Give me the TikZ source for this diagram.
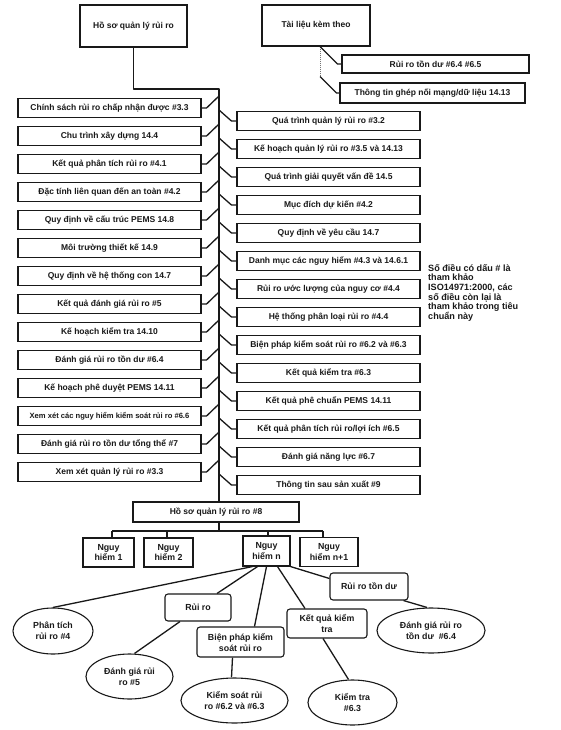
\documentclass[tikz,border=0pt]{standalone}
\usepackage{fontspec}
\setmainfont{Liberation Sans}
\usetikzlibrary{calc,shapes.geometric}
\definecolor{hsink}{RGB}{25,25,25}
\tikzset{
  hsbox/.style={
    draw=hsink, line width=1.1pt, fill=white, align=center,
    inner sep=1pt, text=hsink, font=\bfseries\fontsize{8.5}{10.5}\selectfont
  },
  topbox/.style={hsbox, minimum width=107pt, minimum height=42pt},
  itembox/.style={hsbox, minimum width=183pt, minimum height=19.5pt},
  subbox/.style={hsbox, minimum height=20pt},
  hzbox/.style={hsbox, minimum height=29pt, font=\bfseries\fontsize{8.8}{10.5}\selectfont},
  rbox/.style={hsbox, rounded corners=3pt, minimum height=27pt, font=\bfseries\fontsize{8.8}{11}\selectfont},
  oval/.style={hsbox, ellipse, inner sep=0pt, minimum height=45pt, font=\bfseries\fontsize{8.8}{11.5}\selectfont},
  link/.style={draw=hsink, line width=1.3pt, line join=round},
  note/.style={anchor=north west, align=left, inner sep=0pt, text=hsink, font=\bfseries\fontsize{9.1}{9.7}\selectfont}
}
\begin{document}
\begin{tikzpicture}[x=1pt, y=-1pt]
  \fill[white] (0,0) rectangle (560,730);
  \useasboundingbox (0,0) rectangle (560,730);

  % top of the record
  \node[topbox] (hs) at (133.5,26) {Hồ sơ quản lý rủi ro};
  \node[topbox, minimum width=108pt, minimum height=41pt] (tl) at (316,25.5) {Tài liệu kèm theo};
  \node[subbox, minimum width=187pt, minimum height=18pt] (tdu) at (435.5,64) {Rủi ro tồn dư \#6.4 \#6.5};
  \node[subbox, minimum width=185pt] (gnm) at (432.5,93) {Thông tin ghép nối mạng/dữ liệu 14.13};
  \coordinate (tlj) at ($(tl.south)+(4,0)$);
  \draw[hsink!60, line width=1pt, densely dotted] (tlj) -- ++(0,30);
  \draw[link] (tlj) -- ($(tdu.west)+(-4,0)$) -- (tdu.west);
  \draw[link] ($(tlj)+(0,30)$) -- ($(gnm.west)+(-3,0)$) -- (gnm.west);

  % spine
  \coordinate (spine) at (219,89);
  \node[subbox, minimum width=166pt] (rec) at (216,512) {Hồ sơ quản lý rủi ro \#8};
  \draw[link] (hs.south) -- (hs.south |- spine) -- (spine) -- (rec.north -| spine);

  % left column
  \foreach \t [count=\i from 0] in {
    Chính sách rủi ro chấp nhận được \#3.3,
    Chu trình xây dựng 14.4,
    Kết quả phân tích rủi ro \#4.1,
    Đặc tính liên quan đến an toàn \#4.2,
    Quy định về cấu trúc PEMS 14.8,
    Môi trường thiết kế 14.9,
    Quy định về hệ thống con 14.7,
    Kết quả đánh giá rủi ro \#5,
    Kế hoạch kiểm tra 14.10,
    Đánh giá rủi ro tồn dư \#6.4,
    Kế hoạch phê duyệt PEMS 14.11,
    {\fontsize{7.6}{9}\selectfont Xem xét các nguy hiểm kiểm soát rủi ro \#6.6},
    Đánh giá rủi ro tồn dư tổng thể \#7,
    Xem xét quản lý rủi ro \#3.3}
  {
    \node[itembox] (l\i) at (109.5,108+28*\i) {\t};
    \draw[link] (l\i.east) -- ++(5,0) -- ($(l\i.east -| spine)+(0,-12)$);
  }

  % right column
  \foreach \t [count=\i from 0] in {
    Quá trình quản lý rủi ro \#3.2,
    Kế hoạch quản lý rủi ro \#3.5 và 14.13,
    Quá trình giải quyết vấn đề 14.5,
    Mục đích dự kiến \#4.2,
    Quy định về yêu cầu 14.7,
    Danh mục các nguy hiểm \#4.3 và 14.6.1,
    Rủi ro ước lượng của nguy cơ \#4.4,
    Hệ thống phân loại rủi ro \#4.4,
    Biện pháp kiểm soát rủi ro \#6.2 và \#6.3,
    Kết quả kiểm tra \#6.3,
    Kết quả phê chuẩn PEMS 14.11,
    Kết quả phân tích rủi ro/lợi ích \#6.5,
    Đánh giá năng lực \#6.7,
    Thông tin sau sản xuất \#9}
  {
    \node[itembox] (r\i) at (328.5,121+28*\i) {\t};
    \draw[link] ($(r\i.west -| spine)+(0,-11)$) -- ($(r\i.west)+(-5,0)$) -- (r\i.west);
  }

  \node[note] (nt) at (428,264) {Số điều có dấu \# là\\tham khảo\\ISO14971:2000, các\\số điều còn lại là\\tham khảo trong tiêu\\chuẩn này};

  % hazards
  \coordinate (bus) at (219,531);
  \node[hzbox, minimum width=51pt] (h1) at (108.5,552.5) {Nguy\\hiểm 1};
  \node[hzbox, minimum width=49pt] (h2) at (168.5,552.5) {Nguy\\hiểm 2};
  \node[hzbox, minimum width=47pt, minimum height=30pt] (hn) at (266.5,551) {Nguy\\hiểm n};
  \node[hzbox, minimum width=58pt] (hm) at (329,552) {Nguy\\hiểm n+1};
  \draw[link] (rec.south -| bus) -- (bus);
  \draw[link] ($(h1.north |- bus)+(3.5,0)$) -- ($(hm.north |- bus)+(-6,0)$);
  \foreach \h/\dx in {h1/3.5,h2/-1.5,hn/1.5,hm/-6}
    \draw[link] ($(\h.north |- bus)+(\dx,0)$) -- ($(\h.north)+(\dx,0)$);

  % hazard n breakdown
  \node[oval, minimum width=80pt, minimum height=46pt] (pt) at (53,631) {Phân tích\\rủi ro \#4};
  \node[rbox, minimum width=66pt] (rr) at (198,607.5) {Rủi ro};
  \node[oval, minimum width=87pt] (dg) at (129.5,676.5) {Đánh giá rủi\\ro \#5};
  \node[rbox, minimum width=87pt, minimum height=30pt] (bp) at (240.5,642) {Biện pháp kiểm\\soát rủi ro};
  \node[oval, minimum width=107pt] (ks) at (234.5,700.5) {Kiểm soát rủi\\ro \#6.2 và \#6.3};
  \node[rbox, minimum width=80pt, minimum height=29pt] (kq) at (327,623.5) {Kết quả kiểm\\tra};
  \node[oval, minimum width=89pt] (kt) at (352.5,702.5) {Kiểm tra\\\#6.3};
  \node[rbox, minimum width=78pt] (td) at (369,586.5) {Rủi ro tồn dư};
  \node[oval, minimum width=108pt] (dt) at (431,630.5) {Đánh giá rủi ro\\tồn dư\ \ \#6.4};

  \draw[link] ($(hn.south)+(-14,0)$) -- (pt.north);
  \draw[link] ($(hn.south)+(-9,0)$) -- ($(rr.north)+(19,0)$);
  \draw[link] (hn.south) -- ($(bp.north)+(14,0)$);
  \draw[link] ($(hn.south)+(11,0)$) -- ($(kq.north)+(-22,0)$);
  \draw[link] (hn.south east) -- ($(td.west)+(0,-8)$);
  \draw[link] ($(rr.south)+(-18,0)$) -- ($(dg.north)+(5,0)$);
  \draw[link] ($(bp.south)+(-8,0)$) -- ($(ks.north)+(-3,0)$);
  \draw[link] ($(kq.south)+(-4,0)$) -- ($(kt.north)+(-4,0)$);
  \draw[link] ($(td.south east)+(-5,0)$) -- ($(dt.north)+(-4,0)$);
\end{tikzpicture}
\end{document}
